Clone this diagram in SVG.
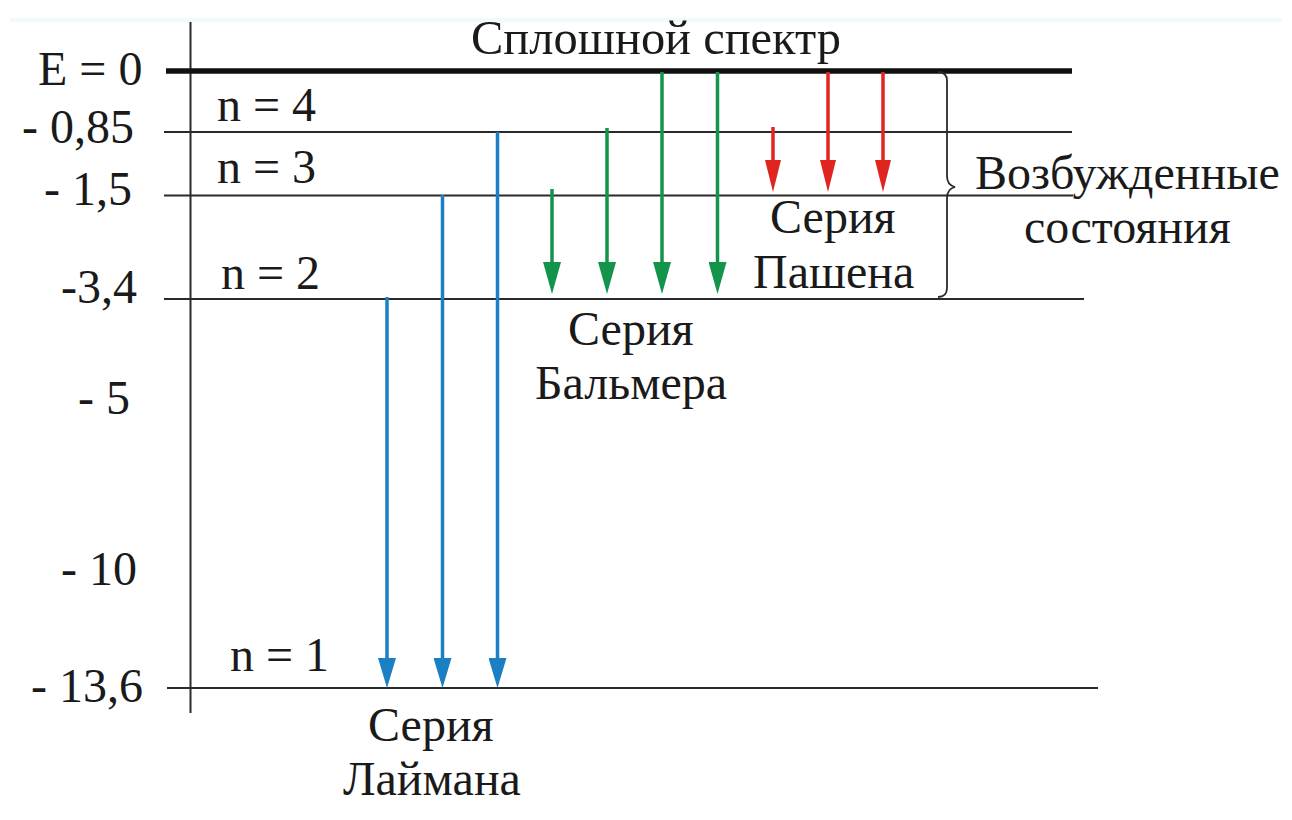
<svg xmlns="http://www.w3.org/2000/svg" width="1292" height="820" viewBox="0 0 1292 820">
  <style>
    .t { font-family: "Liberation Serif", "Times New Roman", "DejaVu Serif", serif; font-size: 48px; fill: #1a1a1a; }
    .lvl { stroke: #2a2a2a; stroke-width: 2; fill: none; }
    .blue { stroke: #1b7fc4; stroke-width: 3.5; marker-end: url(#hb); }
    .green { stroke: #12944a; stroke-width: 3.5; marker-end: url(#hg); }
    .red { stroke: #e0241f; stroke-width: 3.5; marker-end: url(#hr); }
  </style>
  <defs>
    <marker id="hb" markerUnits="userSpaceOnUse" viewBox="0 0 30 18" markerWidth="30" markerHeight="18" refX="16" refY="9" orient="auto">
      <path d="M0,0 L30,9 L0,18 Z" fill="#1b7fc4"/>
    </marker>
    <marker id="hg" markerUnits="userSpaceOnUse" viewBox="0 0 32 18" markerWidth="32" markerHeight="18" refX="18" refY="9" orient="auto">
      <path d="M0,0 L32,9 L0,18 Z" fill="#12944a"/>
    </marker>
    <marker id="hr" markerUnits="userSpaceOnUse" viewBox="0 0 32 16" markerWidth="32" markerHeight="16" refX="18" refY="8" orient="auto">
      <path d="M0,0 L32,8 L0,16 Z" fill="#e0241f"/>
    </marker>
  </defs>
  <rect x="0" y="0" width="1292" height="820" fill="#ffffff"/>
  <rect x="10" y="18" width="1272" height="4" fill="#f0f9fc"/>

  <g id="axis">
    <line x1="190.5" y1="22" x2="190.5" y2="713" class="lvl"/>
  </g>

  <g id="levels">
    <line id="level-0" x1="166" y1="71" x2="1072" y2="71" stroke="#111" stroke-width="5.5"/>
    <line id="level-4" x1="164" y1="132" x2="1072" y2="132" class="lvl"/>
    <line id="level-3" x1="164" y1="195.5" x2="1073" y2="195.5" class="lvl"/>
    <line id="level-2" x1="164" y1="299" x2="1084" y2="299" class="lvl"/>
    <line id="level-1" x1="167" y1="688" x2="1098" y2="688" class="lvl"/>
  </g>

  <g id="energy-labels">
    <text class="t" x="38" y="85">E = 0</text>
    <text class="t" x="22" y="143">- 0,85</text>
    <text class="t" x="44" y="205">- 1,5</text>
    <text class="t" x="61" y="303">-3,4</text>
    <text class="t" x="78" y="414">- 5</text>
    <text class="t" x="61" y="585">- 10</text>
    <text class="t" x="31" y="702">- 13,6</text>
  </g>

  <g id="n-labels">
    <text class="t" x="217" y="121">n = 4</text>
    <text class="t" x="217" y="183">n = 3</text>
    <text class="t" x="221" y="289">n = 2</text>
    <text class="t" x="230" y="671">n = 1</text>
  </g>

  <g id="title">
    <text class="t" x="471" y="54" textLength="370" lengthAdjust="spacingAndGlyphs">Сплошной спектр</text>
  </g>

  <g id="connectors">
    <line x1="387" y1="297" x2="387" y2="674" class="blue"/>
    <line x1="442.5" y1="195" x2="442.5" y2="674" class="blue"/>
    <line x1="497.5" y1="132" x2="497.5" y2="674" class="blue"/>
    <line x1="552" y1="189" x2="552" y2="280" class="green"/>
    <line x1="607" y1="128" x2="607" y2="280" class="green"/>
    <line x1="662" y1="72" x2="662" y2="280" class="green"/>
    <line x1="717.5" y1="72" x2="717.5" y2="280" class="green"/>
    <line x1="773" y1="127" x2="773" y2="178" class="red"/>
    <line x1="828" y1="72" x2="828" y2="178" class="red"/>
    <line x1="883" y1="72" x2="883" y2="178" class="red"/>
  </g>

  <g id="brace">
    <path d="M938,72 Q947,72 947,81 L947,176 Q947,185 955,187 Q947,189 947,198 L947,288 Q947,297 938,297" fill="none" stroke="#2a2a2a" stroke-width="1.8"/>
  </g>

  <g id="series-lyman">
    <text class="t" x="368" y="741">Серия</text>
    <text class="t" x="343" y="795">Лаймана</text>
  </g>
  <g id="series-balmer">
    <text class="t" x="568" y="345">Серия</text>
    <text class="t" x="535" y="399">Бальмера</text>
  </g>
  <g id="series-paschen">
    <text class="t" x="770" y="233">Серия</text>
    <text class="t" x="753" y="288">Пашена</text>
  </g>
  <g id="excited-states">
    <text class="t" x="975" y="189">Возбужденные</text>
    <text class="t" x="1024" y="243">состояния</text>
  </g>
</svg>
